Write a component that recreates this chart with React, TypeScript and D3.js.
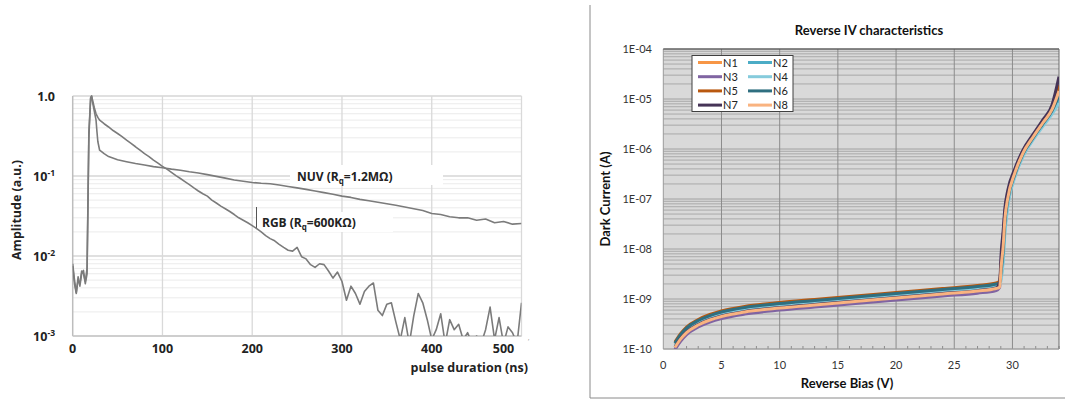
import React from 'react';
import * as d3 from 'd3';

// ---------- Left chart data (pulse shapes) ----------
const pulseTickValues = [0, 100, 200, 300, 400, 500];
const ampDecades = [1, 0.1, 0.01, 0.001];
const ampDecadeExp = ['', '-1', '-2', '-3'];

const nuvTime = [0, 2, 4, 6, 8, 10, 12, 14, 16, 18, 20, 21, 22, 24, 26, 27, 28, 30, 35, 40,
  50, 60, 70, 80, 90, 100, 110, 120, 130, 140, 150, 160, 170, 180, 190, 200, 210, 220, 230, 240,
  250, 260, 270, 280, 290, 300, 310, 320, 330, 340, 350, 360, 370, 380, 390, 400, 410, 420, 430, 440,
  450, 460, 470, 480, 490, 500];
const nuvAmp = [0.0075, 0.0045, 0.0034, 0.0055, 0.0042, 0.006, 0.0066, 0.0045, 0.006, 0.3, 0.95, 1.0, 0.85, 0.65, 0.5, 0.36, 0.27, 0.21, 0.19, 0.175,
  0.16, 0.151, 0.143, 0.137, 0.131, 0.127, 0.122, 0.118, 0.113, 0.109, 0.104, 0.099, 0.094, 0.089, 0.086, 0.083, 0.081, 0.080, 0.077, 0.074,
  0.071, 0.068, 0.065, 0.062, 0.059, 0.056, 0.054, 0.051, 0.049, 0.047, 0.045, 0.043, 0.041, 0.039, 0.037, 0.034, 0.033, 0.031, 0.030, 0.030,
  0.028, 0.029, 0.026, 0.027, 0.025, 0.0255];

const rgbTime = [0, 2, 4, 6, 8, 10, 12, 14, 16, 18, 20, 21, 22, 24, 26, 28, 30,
  35, 40, 45, 50, 55, 60, 65, 70, 75, 80, 85, 90, 95, 100, 105, 110, 115, 120, 125, 130,
  135, 140, 145, 150, 155, 160, 165, 170, 175, 180, 185, 190, 195, 200, 205, 210, 215, 220, 225, 230,
  235, 240, 245, 250, 255, 260, 265, 270, 275, 280, 285, 290, 295, 300, 305, 310, 315, 320, 325, 330,
  335, 340, 345, 350, 355, 360, 365, 370, 375, 380, 385, 390, 395, 400, 405, 410, 415, 420, 425, 430,
  435, 440, 445, 450, 455, 460, 465, 470, 475, 480, 485, 490, 495, 500];
const rgbAmp = [0.008, 0.005, 0.0035, 0.005, 0.0045, 0.0065, 0.006, 0.0048, 0.007, 0.35, 0.95, 1.0, 0.9, 0.72, 0.6, 0.54, 0.5,
  0.45, 0.41, 0.37, 0.34, 0.31, 0.28, 0.255, 0.232, 0.21, 0.19, 0.175, 0.158, 0.145, 0.132, 0.122, 0.111, 0.101, 0.093, 0.085, 0.078,
  0.071, 0.065, 0.06, 0.056, 0.05, 0.046, 0.042, 0.039, 0.036, 0.033, 0.03, 0.028, 0.026, 0.024, 0.022, 0.02, 0.018, 0.0165, 0.0155, 0.014,
  0.0128, 0.0118, 0.0115, 0.0128, 0.0098, 0.0092, 0.0078, 0.0072, 0.008, 0.0078, 0.0065, 0.0053, 0.0063, 0.0048, 0.0028, 0.0042, 0.0034, 0.0025, 0.0036, 0.0042,
  0.0046, 0.0021, 0.0018, 0.0025, 0.0026, 0.0015, 0.0009, 0.0017, 0.0008, 0.0018, 0.0034, 0.0026, 0.0016, 0.0009, 0.0012, 0.0019, 0.0008, 0.0016, 0.0012, 0.0014,
  0.0009, 0.0011, 0.0008, 0.001, 0.0008, 0.0012, 0.0023, 0.0009, 0.0017, 0.0008, 0.0013, 0.0011, 0.0008, 0.0026];

// ---------- Right chart data (reverse IV) ----------
const biasVoltage = [1, 1.5, 2, 3, 4, 5, 7, 10, 13, 16, 20, 24, 27, 28.6, 28.9, 29.05, 29.2, 29.35, 29.6, 30.2, 30.9, 31.8, 32.6, 33.4, 34];
const currentN1 = [1.22e-10, 1.82e-10, 2.45e-10, 3.47e-10, 4.37e-10, 5.13e-10, 6.31e-10, 7.58e-10, 8.71e-10, 1.0e-9, 1.2e-9, 1.44e-9, 1.65e-9, 1.86e-9, 1.99e-9,
  5.0e-9, 1.12e-8, 3.98e-8, 1.05e-7, 3.31e-7, 8.3e-7, 1.78e-6, 3.31e-6, 6.17e-6, 1.51e-5];
const currentN2 = [1.29e-10, 1.91e-10, 2.57e-10, 3.64e-10, 4.59e-10, 5.39e-10, 6.63e-10, 7.96e-10, 9.15e-10, 1.05e-9, 1.27e-9, 1.52e-9, 1.74e-9, 1.96e-9, 2.09e-9,
  3.0e-9, 7.0e-9, 2.5e-8, 8.0e-8, 2.9e-7, 7.5e-7, 1.65e-6, 3.0e-6, 5.5e-6, 1.0e-5];
const currentN3 = [9.7e-11, 1.44e-10, 1.94e-10, 2.75e-10, 3.46e-10, 4.07e-10, 5.0e-10, 6.01e-10, 6.91e-10, 7.93e-10, 9.55e-10, 1.15e-9, 1.31e-9, 1.48e-9, 1.7e-9,
  7.5e-9, 1.8e-8, 5.5e-8, 1.3e-7, 3.7e-7, 9.0e-7, 1.9e-6, 3.6e-6, 7.0e-6, 2.2e-5];
const currentN4 = [1.17e-10, 1.74e-10, 2.34e-10, 3.31e-10, 4.17e-10, 4.9e-10, 6.03e-10, 7.24e-10, 8.32e-10, 9.55e-10, 1.15e-9, 1.38e-9, 1.58e-9, 1.78e-9, 1.9e-9,
  2.6e-9, 5.5e-9, 2.0e-8, 7.0e-8, 2.7e-7, 7.0e-7, 1.55e-6, 2.8e-6, 5.0e-6, 8.3e-6];
const currentN5 = [1.37e-10, 2.04e-10, 2.75e-10, 3.89e-10, 4.9e-10, 5.76e-10, 7.09e-10, 8.51e-10, 9.78e-10, 1.12e-9, 1.35e-9, 1.62e-9, 1.86e-9, 2.09e-9, 2.3e-9,
  6.0e-9, 1.4e-8, 4.5e-8, 1.15e-7, 3.5e-7, 8.6e-7, 1.85e-6, 3.45e-6, 6.5e-6, 1.9e-5];
const currentN6 = [1.31e-10, 1.95e-10, 2.62e-10, 3.71e-10, 4.67e-10, 5.49e-10, 6.75e-10, 8.11e-10, 9.32e-10, 1.07e-9, 1.29e-9, 1.55e-9, 1.77e-9, 1.99e-9, 2.13e-9,
  4.0e-9, 9.0e-9, 3.3e-8, 9.5e-8, 3.1e-7, 7.9e-7, 1.7e-6, 3.15e-6, 5.8e-6, 1.2e-5];
const currentN7 = [1.09e-10, 1.62e-10, 2.18e-10, 3.09e-10, 3.89e-10, 4.57e-10, 5.63e-10, 6.75e-10, 7.76e-10, 8.91e-10, 1.07e-9, 1.29e-9, 1.47e-9, 1.66e-9, 2.2e-9,
  9.5e-9, 2.3e-8, 6.5e-8, 1.5e-7, 4.0e-7, 9.5e-7, 2.0e-6, 3.8e-6, 7.6e-6, 2.8e-5];
const currentN8 = [1.07e-10, 1.59e-10, 2.13e-10, 3.02e-10, 3.8e-10, 4.47e-10, 5.5e-10, 6.6e-10, 7.59e-10, 8.71e-10, 1.05e-9, 1.26e-9, 1.44e-9, 1.62e-9, 1.73e-9,
  5.0e-9, 1.12e-8, 3.98e-8, 1.05e-7, 3.31e-7, 8.3e-7, 1.78e-6, 3.31e-6, 6.17e-6, 1.45e-5];

const seriesNames = ['N1', 'N2', 'N3', 'N4', 'N5', 'N6', 'N7', 'N8'];
const seriesValues = [currentN1, currentN2, currentN3, currentN4, currentN5, currentN6, currentN7, currentN8];
const seriesColors = ['#f79646', '#4bacc6', '#8064a2', '#85cbdc', '#b9580f', '#2f6f80', '#463457', '#f9b380'];
const biasTicks = [0, 5, 10, 15, 20, 25, 30];
const currentDecades = [1e-4, 1e-5, 1e-6, 1e-7, 1e-8, 1e-9, 1e-10];
const currentTickLabels = ['1E-04', '1E-05', '1E-06', '1E-07', '1E-08', '1E-09', '1E-10'];

export default function App() {
  // Left chart scales
  const lx = d3.scaleLinear().domain([0, 500]).range([72.7, 521.5]);
  const ly = d3.scaleLog().domain([0.001, 1]).range([336, 96]);
  const leftMinor: number[] = [];
  [0.001, 0.01, 0.1].forEach((d) => { for (let m = 2; m <= 9; m++) leftMinor.push(d * m); });
  const pulseLine = d3.line<[number, number]>().x((d) => lx(d[0])).y((d) => ly(d[1]));
  const nuvPts = nuvTime.map((t, i) => [t, nuvAmp[i]] as [number, number]);
  const rgbPts = rgbTime.map((t, i) => [t, rgbAmp[i]] as [number, number]);

  // Right chart scales
  const rx = d3.scaleLinear().domain([0, 34]).range([663.3, 1059]);
  const ry = d3.scaleLog().domain([1e-10, 1e-4]).range([349, 49]);
  const rightMinor: number[] = [];
  [1e-10, 1e-9, 1e-8, 1e-7, 1e-6, 1e-5].forEach((d) => { for (let m = 2; m <= 9; m++) rightMinor.push(d * m); });
  const ivLine = d3.line<[number, number]>().x((d) => rx(d[0])).y((d) => ry(d[1])).curve(d3.curveMonotoneX);
  const minorBias = d3.range(1, 35).filter((v) => v % 5 !== 0);

  const leftFont = '"Open Sans", "DejaVu Sans", sans-serif';
  const rightFont = 'Lato, "Liberation Sans", sans-serif';

  return (
    <svg width={1065} height={401} style={{ position: 'absolute', left: 0, top: 0, background: '#fff' }}>
      <defs>
        <clipPath id="leftClip"><rect x={lx(0)} y={ly(1) - 2} width={lx(500) - lx(0)} height={ly(0.001) - ly(1) + 2} /></clipPath>
        <clipPath id="rightClip"><rect x={rx(0)} y={ry(1e-4)} width={rx(34) - rx(0)} height={ry(1e-10) - ry(1e-4)} /></clipPath>
      </defs>

      {/* ================= LEFT CHART ================= */}
      <g>
        {leftMinor.map((v, i) => (
          <line key={'lm' + i} x1={lx(0)} x2={lx(500)} y1={ly(v)} y2={ly(v)} stroke="#ebebeb" strokeWidth={1} />
        ))}
        {ampDecades.map((v, i) => (
          <line key={'ld' + i} x1={lx(0)} x2={lx(500)} y1={ly(v)} y2={ly(v)} stroke="#d6d6d6" strokeWidth={1.3} />
        ))}
        {pulseTickValues.slice(1).map((v) => (
          <line key={'lv' + v} x1={lx(v)} x2={lx(v)} y1={ly(1)} y2={ly(0.001)} stroke="#d9d9d9" strokeWidth={1.3} />
        ))}
        <line x1={lx(0)} x2={lx(0)} y1={ly(1)} y2={ly(0.001)} stroke="#bdbdbd" strokeWidth={1.5} />
        <line x1={lx(0)} x2={lx(500)} y1={ly(0.001)} y2={ly(0.001)} stroke="#c8c8c8" strokeWidth={1.5} />

        {/* label boxes */}
        <rect x={290} y={165} width={153} height={20} fill="#fff" />
        <rect x={257} y={212} width={136} height={20} fill="#fff" />
        <line x1={256.5} x2={256.5} y1={207} y2={228} stroke="#555" strokeWidth={1} />

        <g clipPath="url(#leftClip)" fill="none" stroke="#7b7b7b" strokeWidth={1.6} strokeLinejoin="round">
          <path d={pulseLine(rgbPts) || ''} />
          <path d={pulseLine(nuvPts) || ''} />
        </g>

        {ampDecades.map((v, i) => (
          <text key={'lyl' + i} x={55} y={ly(v) + 4.5} textAnchor="end" fontFamily={leftFont} fontWeight={700} fontSize={12.5} fill="#222">
            {i === 0 ? '1.0' : (<>10<tspan dy={-5} fontSize={8.5}>{ampDecadeExp[i]}</tspan></>)}
          </text>
        ))}
        {pulseTickValues.map((v) => (
          <text key={'lxl' + v} x={v === 500 ? lx(v) - 18 : lx(v)} y={353} textAnchor="middle" fontFamily={leftFont} fontWeight={700} fontSize={12.5} fill="#222">{v}</text>
        ))}
        <text x={528} y={372} textAnchor="end" fontFamily={leftFont} fontWeight={700} fontSize={12.5} fill="#222">pulse duration (ns)</text>
        <text transform={`translate(21,${(ly(1) + ly(0.001)) / 2 - 6}) rotate(-90)`} textAnchor="middle" fontFamily={leftFont} fontWeight={700} fontSize={12.5} fill="#222">Amplitude (a.u.)</text>

        <text x={297} y={181} fontFamily={leftFont} fontWeight={700} fontSize={12} fill="#222">
          NUV (R<tspan dy={3} fontSize={8}>q</tspan><tspan dy={-3}>=1.2MΩ)</tspan>
        </text>
        <text x={262} y={227} fontFamily={leftFont} fontWeight={700} fontSize={12} fill="#222">
          RGB (R<tspan dy={3} fontSize={8}>q</tspan><tspan dy={-3}>=600KΩ)</tspan>
        </text>
        <text x={528} y={344} fontFamily={leftFont} fontSize={7} fill="#999">’</text>
      </g>

      {/* ================= RIGHT CHART ================= */}
      <g>
        <line x1={590} x2={590} y1={5} y2={398} stroke="#8a8a8a" strokeWidth={1} />
        <line x1={590} x2={1065} y1={398} y2={398} stroke="#8a8a8a" strokeWidth={1} />

        <rect x={rx(0)} y={ry(1e-4)} width={rx(34) - rx(0)} height={ry(1e-10) - ry(1e-4)} fill="#d9d9d9" />
        {rightMinor.map((v, i) => (
          <line key={'rm' + i} x1={rx(0)} x2={rx(34)} y1={ry(v)} y2={ry(v)} stroke="#a9a9a9" strokeWidth={1} />
        ))}
        {currentDecades.map((v, i) => (
          <line key={'rd' + i} x1={rx(0)} x2={rx(34)} y1={ry(v)} y2={ry(v)} stroke="#a0a0a0" strokeWidth={1} />
        ))}
        {biasTicks.slice(1).map((v) => (
          <line key={'rv' + v} x1={rx(v)} x2={rx(v)} y1={ry(1e-4)} y2={ry(1e-10)} stroke="#8c8c8c" strokeWidth={1} />
        ))}
        {minorBias.map((v) => (
          <line key={'rt' + v} x1={rx(v)} x2={rx(v)} y1={ry(1e-10) - 3} y2={ry(1e-10)} stroke="#8c8c8c" strokeWidth={1} />
        ))}
        <line x1={rx(0)} x2={rx(0)} y1={ry(1e-4)} y2={ry(1e-10)} stroke="#9a9a9a" strokeWidth={1} />
        <line x1={rx(0)} x2={rx(34)} y1={ry(1e-4)} y2={ry(1e-4)} stroke="#404040" strokeWidth={1} />
        <line x1={rx(34)} x2={rx(34)} y1={ry(1e-4)} y2={ry(1e-10)} stroke="#6a6a6a" strokeWidth={1} />
        <line x1={rx(0)} x2={rx(34)} y1={ry(1e-10)} y2={ry(1e-10)} stroke="#a0a0a0" strokeWidth={1} />

        <g clipPath="url(#rightClip)" fill="none" strokeWidth={3} strokeLinejoin="round">
          {seriesValues.map((vals, si) => (
            <path key={'s' + si} d={ivLine(biasVoltage.map((v, i) => [v, vals[i]] as [number, number])) || ''} stroke={seriesColors[si]} />
          ))}
        </g>

        {currentDecades.map((v, i) => (
          <text key={'ryl' + i} x={652} y={ry(v) + 4} textAnchor="end" fontFamily={rightFont} fontSize={11} fill="#333">{currentTickLabels[i]}</text>
        ))}
        {biasTicks.map((v) => (
          <text key={'rxl' + v} x={rx(v)} y={369} textAnchor="middle" fontFamily={rightFont} fontSize={11} fill="#333">{v}</text>
        ))}
        <text x={847} y={388} textAnchor="middle" fontFamily={rightFont} fontWeight={700} fontSize={13} fill="#111">Reverse Bias (V)</text>
        <text transform={`translate(610,${(ry(1e-4) + ry(1e-10)) / 2}) rotate(-90)`} textAnchor="middle" fontFamily={rightFont} fontWeight={700} fontSize={13} fill="#111">Dark Current (A)</text>
        <text x={869} y={35} textAnchor="middle" fontFamily={rightFont} fontWeight={700} fontSize={13} fill="#111">Reverse IV characteristics</text>

        {/* legend */}
        <rect x={692} y={55.5} width={101} height={56} fill="#fff" stroke="#404040" strokeWidth={1} />
        {seriesNames.map((n, i) => {
          const col = i % 2;
          const row = Math.floor(i / 2);
          const x0 = col === 0 ? 698 : 748;
          const yy = 62.5 + row * 14.2;
          return (
            <g key={'lg' + n}>
              <line x1={x0} x2={x0 + 24} y1={yy} y2={yy} stroke={seriesColors[i]} strokeWidth={3} />
              <text x={x0 + 25} y={yy + 4} fontFamily={rightFont} fontSize={11} fill="#222">{n}</text>
            </g>
          );
        })}
      </g>
    </svg>
  );
}
